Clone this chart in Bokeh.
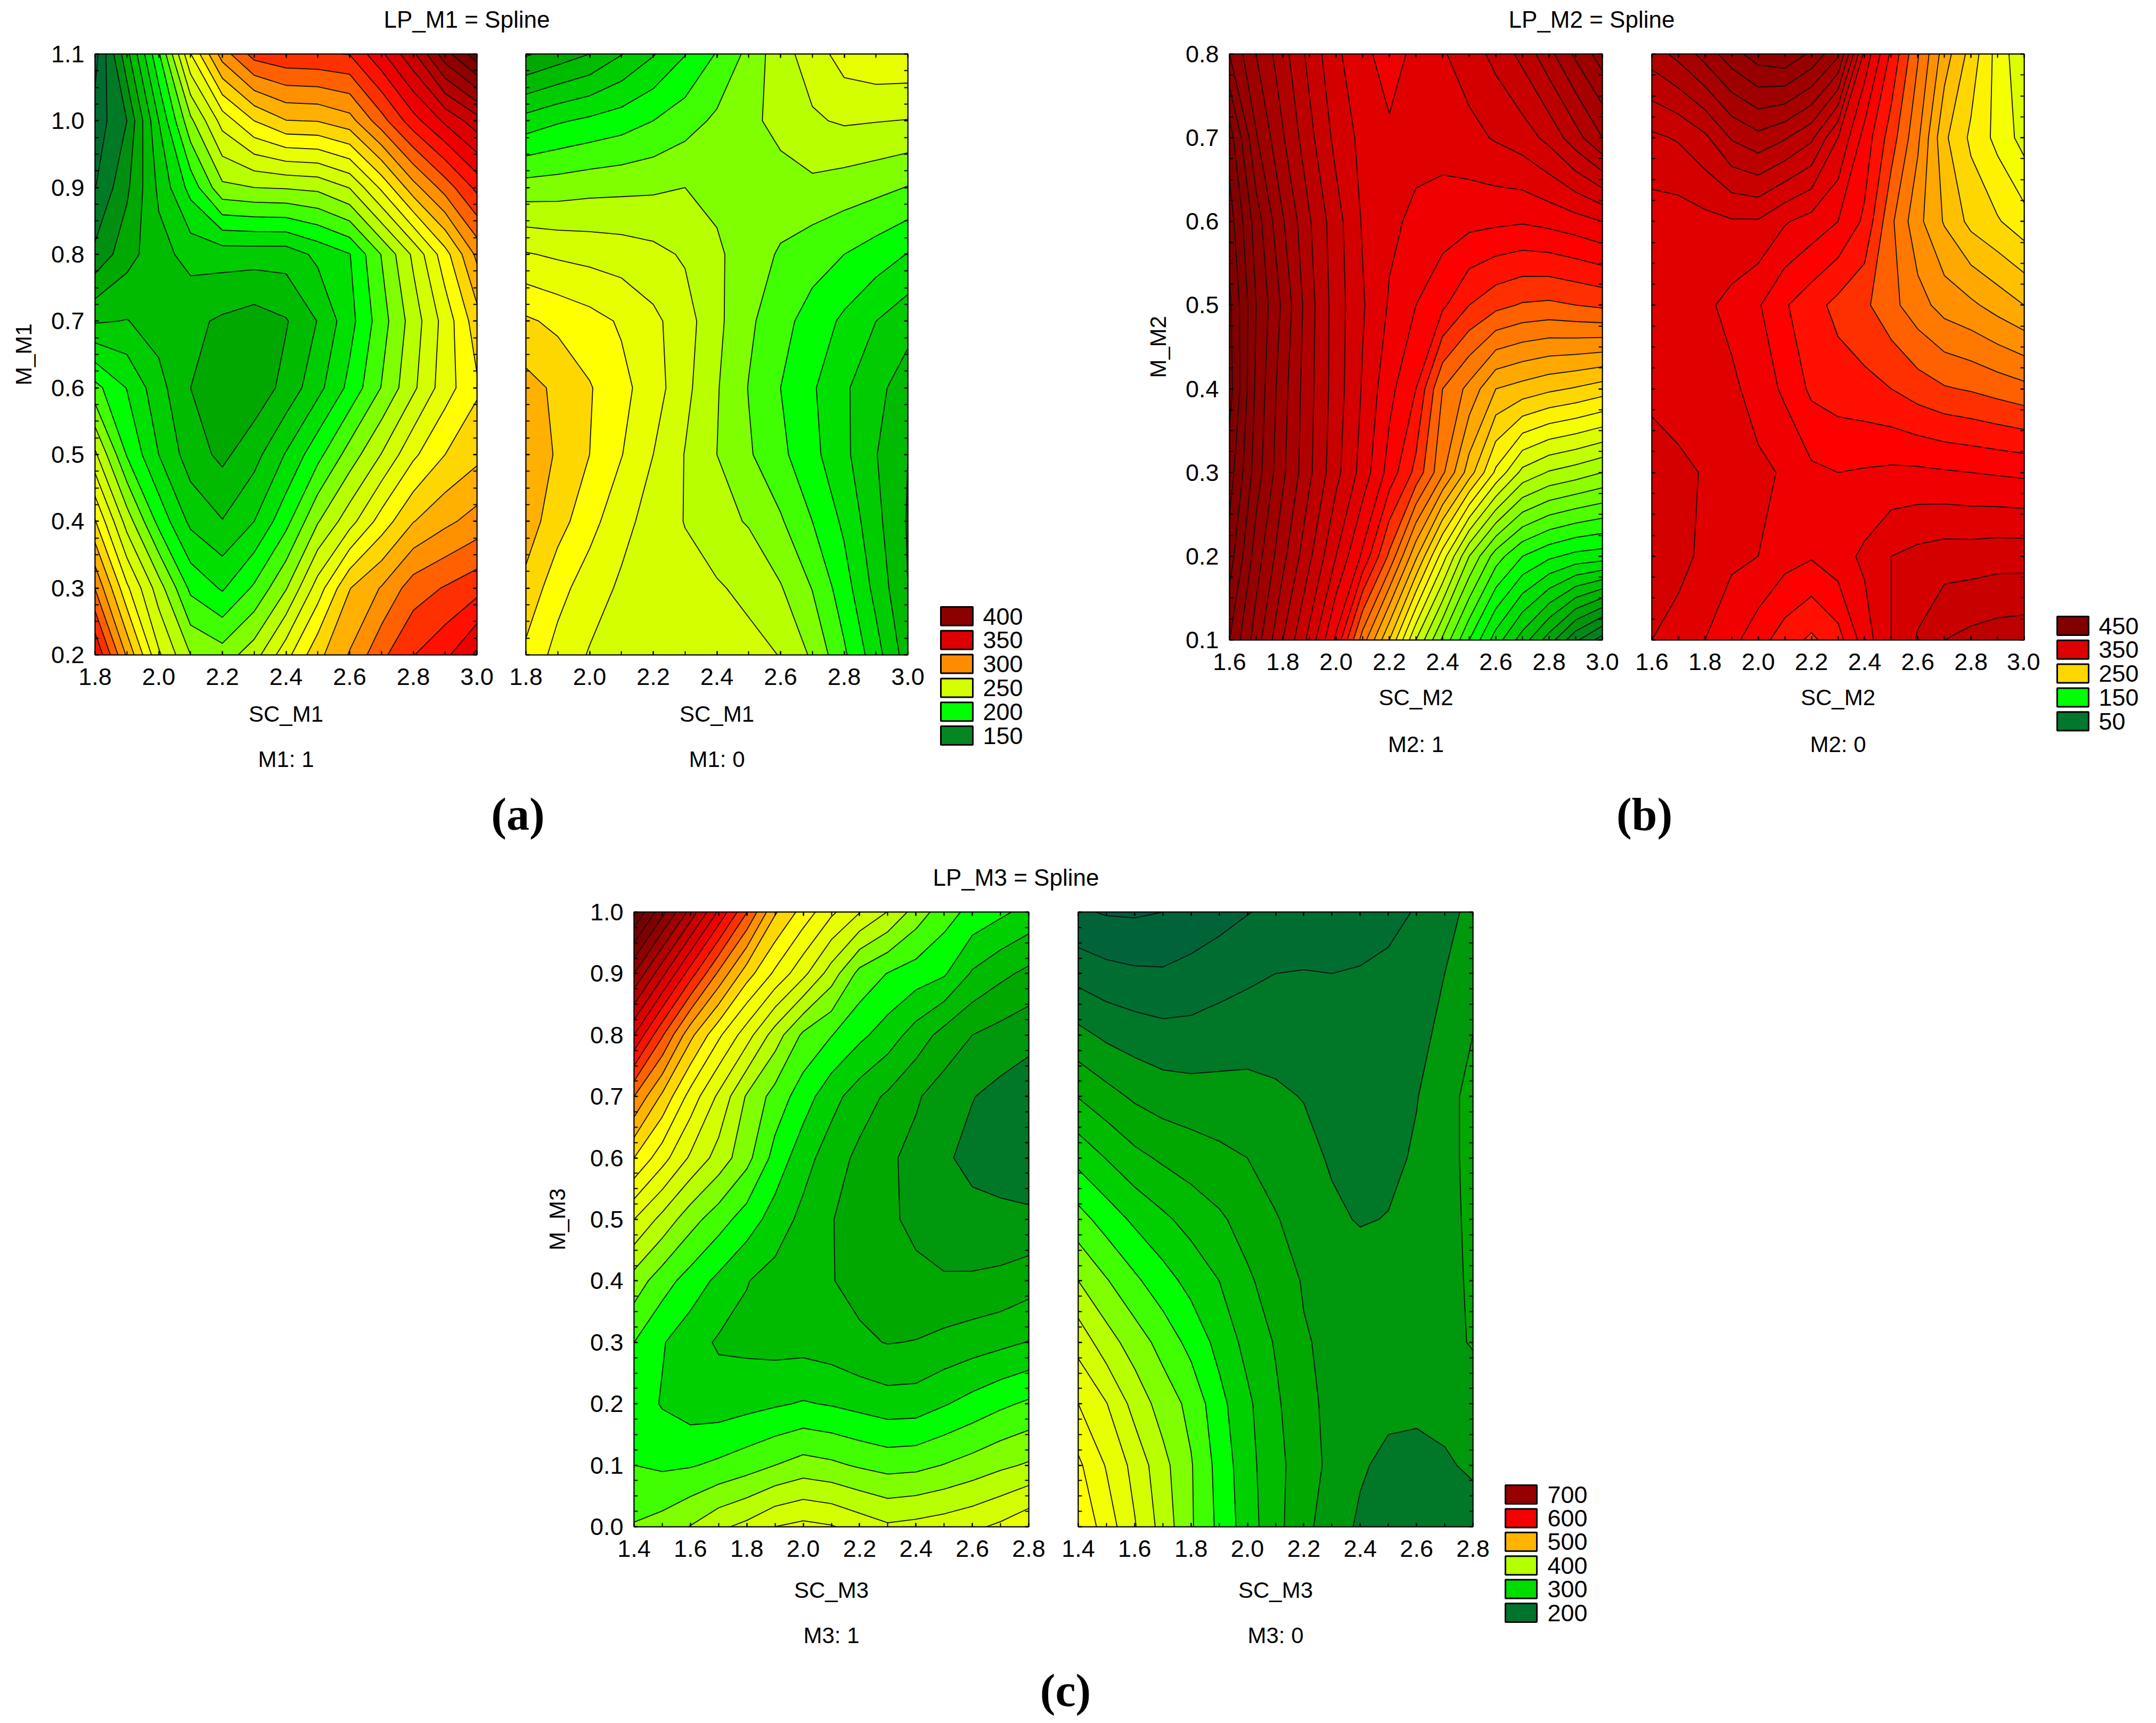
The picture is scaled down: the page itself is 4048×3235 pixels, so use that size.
import numpy as np
from bokeh.core.properties import value
from bokeh.embed import file_html
from bokeh.layouts import column, row
from bokeh.models import FixedTicker, Label, LinearAxis, NumeralTickFormatter, Range1d, Spacer
from bokeh.plotting import figure
from bokeh.resources import INLINE

FONT = "Liberation Sans"
SERIF = "Liberation Serif"

# ---------- data ----------
sc_m1 = [1.8, 1.9, 2.0, 2.1, 2.2, 2.3, 2.4, 2.5, 2.6, 2.7, 2.8, 2.9, 3.0]
m_m1 = [1.1, 1.0, 0.9, 0.8, 0.7, 0.6, 0.5, 0.4, 0.3, 0.2]
lp_m1_on = [
    [95, 146, 198, 262, 306, 330, 335, 336, 338, 360, 385, 420, 445],
    [105, 125, 175, 222, 255, 275, 287, 288, 295, 320, 345, 365, 382],
    [112, 135, 165, 192, 222, 225, 226, 228, 238, 265, 295, 318, 341],
    [128, 145, 158, 167, 168, 168, 168, 178, 187, 213, 240, 270, 303],
    [161, 163, 157, 153, 148, 144, 149, 163, 183, 207, 231, 255, 282],
    [204, 187, 167, 150, 142, 142, 154, 171, 191, 213, 235, 257, 273],
    [240, 199, 175, 156, 147, 158, 176, 196, 218, 238, 260, 275, 284],
    [276, 232, 196, 172, 163, 175, 196, 224, 245, 268, 287, 297, 305],
    [312, 265, 231, 197, 186, 202, 224, 256, 287, 301, 319, 326, 333],
    [350, 298, 252, 225, 218, 232, 258, 284, 301, 322, 337, 347, 365],
]
lp_m1_off = [
    [136, 143, 150, 162, 174, 187, 201, 216, 233, 243, 256, 260, 260],
    [180, 186, 190, 194, 200, 207, 215, 222, 229, 236, 239, 238, 237],
    [218, 219, 221, 222, 223, 225, 222, 221, 220, 222, 219, 216, 212],
    [251, 248, 246, 244, 241, 236, 227, 219, 211, 205, 200, 194, 187],
    [277, 272, 267, 261, 253, 243, 228, 215, 204, 195, 185, 175, 167],
    [292, 285, 276, 266, 256, 241, 226, 212, 200, 189, 177, 166, 156],
    [296, 286, 275, 263, 250, 237, 225, 214, 203, 191, 178, 163, 150],
    [294, 280, 267, 254, 245, 237, 229, 224, 214, 200, 185, 166, 149],
    [284, 267, 256, 248, 245, 242, 239, 234, 226, 212, 193, 171, 150],
    [272, 258, 249, 247, 246, 245, 244, 242, 237, 223, 202, 180, 156],
]
sc_m2 = [1.6, 1.7, 1.8, 1.9, 2.0, 2.1, 2.2, 2.3, 2.4, 2.5, 2.6, 2.7, 2.8, 2.9, 3.0]
m_m2 = [0.8, 0.7, 0.6, 0.5, 0.4, 0.3, 0.2, 0.1]
lp_m2_on = [
    [420, 400, 384, 367, 352, 343, 335, 343, 349, 355, 363, 373, 387, 402, 415],
    [445, 411, 391, 373, 357, 347, 342, 343, 344, 347, 351, 355, 363, 376, 390],
    [455, 425, 401, 381, 364, 349, 342, 338, 335, 333, 332, 331, 333, 336, 340],
    [462, 430, 408, 384, 365, 351, 339, 330, 322, 310, 303, 299, 298, 300, 302],
    [464, 428, 404, 383, 365, 349, 333, 320, 290, 277, 260, 256, 252, 249, 245],
    [455, 425, 402, 382, 363, 346, 326, 307, 282, 255, 228, 207, 199, 195, 190],
    [445, 415, 393, 372, 350, 328, 298, 262, 225, 190, 165, 150, 142, 137, 135],
    [430, 405, 380, 357, 328, 285, 250, 210, 178, 150, 125, 105, 85, 62, 45],
]
lp_m2_off = [
    [385, 393, 404, 416, 425, 428, 418, 402, 347, 318, 291, 265, 246, 226, 212],
    [358, 361, 368, 381, 387, 381, 372, 350, 326, 305, 282, 252, 238, 227, 216],
    [345, 345, 347, 349, 349, 341, 336, 330, 318, 292, 273, 259, 247, 241, 234],
    [343, 344, 342, 337, 331, 321, 314, 307, 302, 293, 284, 276, 272, 266, 260],
    [347, 344, 344, 342, 336, 328, 318, 315, 313, 310, 305, 301, 299, 296, 293],
    [356, 353, 349, 345, 342, 339, 332, 330, 331, 332, 332, 331, 330, 329, 328],
    [358, 354, 347, 342, 340, 334, 331, 336, 342, 350, 353, 355, 355, 356, 356],
    [350, 345, 340, 333, 324, 315, 308, 316, 335, 350, 361, 370, 373, 375, 376],
]
sc_m3 = [1.4, 1.5, 1.6, 1.7, 1.8, 1.9, 2.0, 2.1, 2.2, 2.3, 2.4, 2.5, 2.6, 2.7, 2.8]
m_m3 = [1.0, 0.9, 0.8, 0.7, 0.6, 0.5, 0.4, 0.3, 0.2, 0.1, 0.0]
lp_m3_on = [
    [875, 808, 741, 671, 601, 528, 490, 455, 426, 399, 364, 336, 317, 305, 292],
    [775, 707, 637, 570, 511, 470, 432, 388, 342, 324, 313, 303, 272, 256, 244],
    [675, 603, 532, 480, 436, 388, 345, 326, 306, 288, 264, 241, 225, 216, 208],
    [575, 520, 465, 420, 372, 340, 312, 284, 262, 246, 228, 213, 201, 192, 185],
    [500, 460, 421, 390, 358, 316, 285, 262, 244, 229, 218, 204, 192, 187, 184],
    [425, 392, 360, 336, 313, 289, 268, 251, 240, 228, 221, 214, 209, 207, 205],
    [364, 336, 314, 294, 276, 266, 258, 251, 243, 234, 229, 227, 228, 231, 239],
    [325, 302, 285, 272, 269, 266, 266, 262, 254, 249, 251, 257, 263, 269, 276],
    [314, 298, 288, 287, 292, 297, 302, 298, 292, 286, 287, 298, 309, 320, 329],
    [325, 321, 323, 330, 339, 350, 360, 355, 347, 341, 343, 351, 360, 370, 378],
    [352, 360, 376, 395, 407, 425, 432, 427, 415, 404, 408, 413, 420, 430, 445],
]
lp_m3_off = [
    [128, 123, 122, 125, 133, 141, 149, 155, 160, 165, 168, 171, 176, 192, 207],
    [166, 158, 154, 153, 158, 164, 170, 175, 176, 175, 176, 178, 184, 200, 216],
    [207, 195, 188, 183, 183, 187, 190, 190, 187, 183, 181, 183, 191, 208, 225],
    [249, 234, 221, 213, 210, 209, 208, 204, 199, 191, 187, 189, 199, 214, 235],
    [292, 274, 257, 246, 238, 231, 225, 213, 208, 197, 191, 194, 203, 214, 235],
    [335, 314, 295, 280, 266, 254, 240, 227, 213, 205, 198, 201, 207, 215, 232],
    [375, 352, 330, 310, 292, 275, 254, 238, 223, 219, 214, 213, 213, 217, 229],
    [416, 386, 363, 341, 317, 292, 267, 248, 227, 220, 216, 215, 214, 218, 227],
    [450, 426, 391, 364, 343, 308, 280, 254, 233, 218, 212, 206, 204, 207, 212],
    [480, 448, 417, 383, 352, 316, 284, 257, 238, 218, 203, 194, 194, 197, 204],
    [495, 464, 427, 390, 353, 319, 287, 258, 232, 212, 196, 188, 186, 186, 188],
]
legend_a = [400, 350, 300, 250, 200, 150]
legend_a_colors = ["#8b0000", "#dd0000", "#ff8c00", "#d4ff00", "#00ff00", "#048621"]
legend_b = [450, 350, 250, 150, 50]
legend_b_colors = ["#800000", "#dd0000", "#ffd700", "#00ff00", "#00782d"]
legend_c = [700, 600, 500, 400, 300, 200]
legend_c_colors = ["#960000", "#f50000", "#ffb400", "#b4ff00", "#00dc00", "#00732d"]

# ---------- band colours (listed low band to high band) ----------
bands_a = ["#005a40", "#00603c", "#006c30", "#007a24", "#008f10", "#00a800", "#00bb00", "#00cc00",
           "#00e000", "#00ff00", "#40ff00", "#80ff00", "#b8ff00", "#d4ff00", "#e8ff00", "#ffff00",
           "#ffd700", "#ffb000", "#ff9000", "#ff6000", "#ff3000", "#ff1000", "#ee0000", "#dd0000",
           "#c80000", "#b40000", "#a00000", "#900000", "#800000", "#700000"]
levels_a = [75 + 12.5 * i for i in range(len(bands_a) + 1)]
anchors_b = [(30, "#00603a"), (50, "#00782d"), (75, "#009010"), (100, "#00b400"), (125, "#00d800"),
             (150, "#00ff00"), (175, "#60ff00"), (200, "#a8ff00"), (225, "#e8ff00"), (235, "#ffff00"),
             (250, "#ffd700"), (270, "#ffa800"), (280, "#ff9000"), (300, "#ff6000"), (310, "#ff3000"),
             (320, "#ff1000"), (330, "#ff0000"), (340, "#f00000"), (350, "#e00000"), (360, "#d40000"),
             (370, "#c80000"), (380, "#bc0000"), (400, "#a60000"), (420, "#960000"), (440, "#880000"),
             (460, "#800000"), (500, "#780000")]
levels_b = [30 + 10 * i for i in range(48)]
bands_c = ["#005c3e", "#006438", "#006e30", "#007828", "#00980c", "#00a800", "#00bb00", "#00d000",
           "#00ff00", "#40ff00", "#80ff00", "#b8ff00", "#d4ff00", "#e8ff00", "#f4ff00", "#ffff00",
           "#ffd700", "#ffb400", "#ff9000", "#ff6000", "#ff3000", "#ff1000", "#ee0000", "#dd0000",
           "#c80000", "#b40000", "#a00000", "#900000", "#800000", "#780000", "#700000"]
levels_c = [100 + 25 * i for i in range(len(bands_c) + 1)]


def hex2rgb(h):
    return [int(h[i:i + 2], 16) for i in (1, 3, 5)]


def interp_bands(levels, anchors):
    vals = [a[0] for a in anchors]
    rgb = np.array([hex2rgb(a[1]) for a in anchors], float)
    out = []
    for up in levels[1:]:
        c = [int(round(np.interp(up, vals, rgb[:, j]))) for j in range(3)]
        out.append("#%02x%02x%02x" % tuple(c))
    return out


bands_b = interp_bands(levels_b, anchors_b)


def panel(xs, ys, zz, levels, bands, x_major, x_minor, y_major, y_minor, W, H, left, top, fw, fh,
          ylab=None, show_y=True, label_standoff=25):
    p = figure(width=W, height=H, x_range=Range1d(xs[0], xs[-1]), y_range=Range1d(min(ys), max(ys)),
               x_axis_type=None, y_axis_type=None, toolbar_location=None, output_backend="svg",
               min_border_left=left, min_border_right=W - left - fw, min_border_top=top,
               min_border_bottom=H - top - fh, outline_line_color="black", outline_line_width=2)
    p.grid.visible = False
    z = np.flipud(np.array(zz, float))
    yy = np.array(ys[::-1], float)
    p.contour(np.array(xs, float), yy, z, levels, fill_color=bands, line_color="#101010", line_width=1.8)

    def make(tks, minor, labelled, standoff):
        ax = LinearAxis(ticker=FixedTicker(ticks=tks, minor_ticks=minor))
        ax.major_tick_in = 7
        ax.major_tick_out = 0
        ax.minor_tick_in = 7
        ax.minor_tick_out = 0
        ax.major_tick_line_width = 2
        ax.minor_tick_line_width = 2
        ax.major_tick_line_color = "black"
        ax.minor_tick_line_color = "black"
        ax.axis_line_width = 2
        ax.major_label_standoff = standoff
        ax.major_label_text_font = FONT
        ax.major_label_text_font_size = "45px"
        ax.major_label_text_color = "black"
        ax.formatter = NumeralTickFormatter(format="0.0")
        if not labelled:
            ax.major_label_overrides = {float(t): "" for t in tks}
        return ax

    p.add_layout(make(x_major, x_minor, True, 25), "below")
    p.add_layout(make(x_major, x_minor, False, 0), "above")
    yax = make(y_major, y_minor, show_y, 20)
    if ylab:
        yax.axis_label = ylab
        yax.axis_label_text_font = FONT
        yax.axis_label_text_font_size = "42px"
        yax.axis_label_text_font_style = "normal"
        yax.axis_label_text_color = "black"
        yax.axis_label_standoff = label_standoff
    p.add_layout(yax, "left")
    p.add_layout(make(y_major, y_minor, False, 0), "right")
    return p


def legend(vals, colors, W, H, x0, x1, tx, y0, step, box_h=35):
    p = figure(width=W, height=H, frame_width=W, frame_height=H, x_range=Range1d(0, W),
               y_range=Range1d(H, 0), x_axis_type=None, y_axis_type=None, toolbar_location=None,
               output_backend="svg", min_border=0, outline_line_color=None)
    p.grid.visible = False
    tops = [y0 + i * step for i in range(len(vals))]
    p.quad(left=x0, right=x1, top=tops, bottom=[t + box_h for t in tops], fill_color=colors,
           line_color="black", line_width=3)
    p.text(x=[tx] * len(vals), y=[t + box_h / 2 for t in tops], text=[str(v) for v in vals],
           text_align="left", text_baseline="middle", text_font=value(FONT), text_font_size="45px",
           text_color="black")
    return p


def strip(W, H, items):
    p = figure(width=W, height=H, x_range=Range1d(0, W), y_range=Range1d(H, 0), x_axis_type=None,
               y_axis_type=None, toolbar_location=None, output_backend="svg", min_border=0,
               outline_line_color=None)
    p.grid.visible = False
    for txt, x, y, font, size, style in items:
        p.add_layout(Label(x=x, y=y, text=txt, text_align="center", text_baseline="middle", text_font=font,
                           text_font_size=size, text_font_style=style, text_color="black"))
    return p


def ticks(start, stop, step):
    n = int(round((stop - start) / step))
    return [round(start + i * step, 3) for i in range(n + 1)]


def lab(txt, x, y):
    return (txt, x, y, FONT, "42px", "normal")


def ttl(txt, x, y):
    return (txt, x, y, FONT, "44px", "normal")


def cap(txt, x, y):
    return (txt, x, y, SERIF, "86px", "bold")


HA, HB, HC = 1225, 1200, 1252
a1 = panel(sc_m1, m_m1, lp_m1_on, levels_a, bands_a, ticks(1.8, 3.0, 0.2), ticks(1.8, 3.0, 0.1),
           ticks(0.2, 1.1, 0.1), ticks(0.2, 1.1, 0.025), 932, HA, 170, 31, 717, 1128, "M_M1")
a2 = panel(sc_m1, m_m1, lp_m1_off, levels_a, bands_a, ticks(1.8, 3.0, 0.2), ticks(1.8, 3.0, 0.1),
           ticks(0.2, 1.1, 0.1), ticks(0.2, 1.1, 0.025), 800, HA, 47, 31, 717, 1128, None, False)
sa = strip(1732, 183, [lab("SC_M1", 528.5, 45), lab("M1: 1", 528.5, 130),
                       lab("SC_M1", 1337.5, 45), lab("M1: 0", 1337.5, 130)])
la = legend(legend_a, legend_a_colors, 250, 1408, 26, 86, 105, 1139 - 70, 44.8)
b1 = panel(sc_m2, m_m2, lp_m2_on, levels_b, bands_b, ticks(1.6, 3.0, 0.2), ticks(1.6, 3.0, 0.1),
           ticks(0.1, 0.8, 0.1), ticks(0.1, 0.8, 0.025), 908, HB, 168, 31, 700, 1100, "M_M2")
b2 = panel(sc_m2, m_m2, lp_m2_off, levels_b, bands_b, ticks(1.6, 3.0, 0.2), ticks(1.6, 3.0, 0.1),
           ticks(0.1, 0.8, 0.1), ticks(0.1, 0.8, 0.025), 782, HB, 53, 31, 699, 1100, None, False)
sb = strip(1690, 208, [lab("SC_M2", 518, 39), lab("M2: 1", 518, 127),
                       lab("SC_M2", 1310.5, 39), lab("M2: 0", 1310.5, 127)])
lb = legend(legend_b, legend_b_colors, 200, 1408, 32, 91, 110, 1157 - 70, 44.8)
c1 = panel(sc_m3, m_m3, lp_m3_on, levels_c, bands_c, ticks(1.4, 2.8, 0.2), ticks(1.4, 2.8, 0.1),
           ticks(0.0, 1.0, 0.1), ticks(0.0, 1.0, 0.025), 971, HC, 190, 32, 741, 1154, "M_M3", True, 35)
c2 = panel(sc_m3, m_m3, lp_m3_off, levels_c, bands_c, ticks(1.4, 2.8, 0.2), ticks(1.4, 2.8, 0.1),
           ticks(0.0, 1.0, 0.1), ticks(0.0, 1.0, 0.025), 829, HC, 53, 32, 741, 1154, None, False)
sc = strip(1800, 193, [lab("SC_M3", 560.5, 53), lab("M3: 1", 560.5, 138),
                       lab("SC_M3", 1394.5, 53), lab("M3: 0", 1394.5, 138)])
lc = legend(legend_c, legend_c_colors, 200, 1445, 26, 85, 105, 2788 - 1680, 44.4)

top = strip(4040, 70, [ttl("LP_M1 = Spline", 876, 36), ttl("LP_M2 = Spline", 2988, 36)])
mid = strip(4040, 202, [cap("(a)", 972, 50), cap("(b)", 3087, 50), ttl("LP_M3 = Spline", 1907, 169)])
bot = strip(4040, 100, [cap("(c)", 2000, 48)])

page = column(top,
              row(Spacer(width=8, height=10),
                  column(row(a1, a2), sa), la,
                  Spacer(width=150, height=10),
                  column(row(b1, b2), sb), lb),
              mid,
              row(Spacer(width=1000, height=10), column(row(c1, c2), sc), lc),
              bot)
open("out.html", "w").write(file_html(page, INLINE))
